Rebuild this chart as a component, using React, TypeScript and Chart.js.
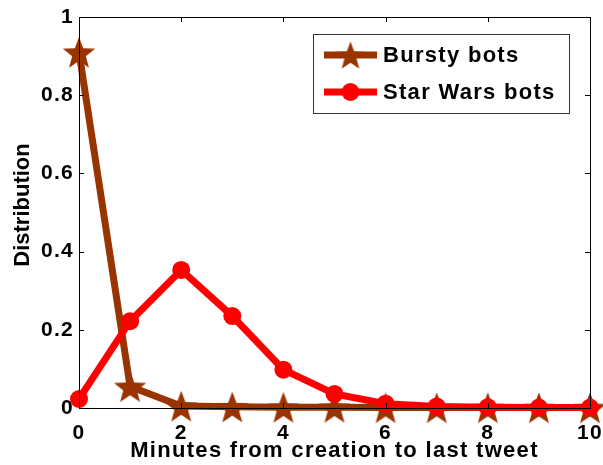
import React, { useEffect, useRef } from "react";
import { Chart, registerables } from "chart.js";

Chart.register(...registerables);

const minutes = [0, 1, 2, 3, 4, 5, 6, 7, 8, 9, 10];
const burstyBots = [0.91, 0.055, 0.005, 0.003, 0.002, 0.002, 0.001, 0.001, 0.001, 0.001, 0.001];
const starWarsBots = [0.023, 0.222, 0.353, 0.235, 0.098, 0.036, 0.011, 0.004, 0.002, 0.001, 0.001];
const xTicks = [0, 2, 4, 6, 8, 10];
const yTicks = [0, 0.2, 0.4, 0.6, 0.8, 1];
const seriesNames = ["Bursty bots", "Star Wars bots"];
const xTitle = "Minutes from creation to last tweet";
const yTitle = "Distribution";

const BROWN = "#993300";
const RED = "#ff0000";
const FONT = "'Liberation Sans', Arial, Helvetica, sans-serif";
const SPACING = "1.3px";

function makeStar(r: number, color: string): HTMLCanvasElement {
  const size = Math.ceil(r * 2 + 2);
  const c = document.createElement("canvas");
  c.width = size;
  c.height = size;
  const ctx = c.getContext("2d")!;
  const cx = size / 2;
  const cy = size / 2 + r * 0.1;
  const inner = r * 0.42;
  ctx.beginPath();
  for (let i = 0; i < 10; i++) {
    const rad = i % 2 === 0 ? r : inner;
    const a = -Math.PI / 2 + (i * Math.PI) / 5;
    const x = cx + rad * Math.cos(a);
    const y = cy + rad * Math.sin(a);
    if (i === 0) ctx.moveTo(x, y);
    else ctx.lineTo(x, y);
  }
  ctx.closePath();
  ctx.fillStyle = color;
  ctx.fill();
  return c;
}

export default function App() {
  const ref = useRef<HTMLCanvasElement | null>(null);

  useEffect(() => {
    document.body.style.margin = "0";
    const star = makeStar(17, BROWN);
    const legendStar = makeStar(15, BROWN);

    const spacingPlugin = {
      id: "spacing",
      beforeLayout(chart: any) {
        chart.ctx.letterSpacing = SPACING;
      },
      beforeDraw(chart: any) {
        chart.ctx.letterSpacing = SPACING;
      },
    };

    const framePlugin = {
      id: "frame",
      afterDatasetsDraw(chart: any) {
        const { ctx, chartArea } = chart;
        const { left, right, top, bottom } = chartArea;
        const xs = chart.scales.x;
        const ys = chart.scales.y;
        ctx.save();
        ctx.strokeStyle = "#000";
        ctx.lineWidth = 1;
        ctx.strokeRect(Math.round(left) + 0.5, Math.round(top) + 0.5, Math.round(right - left), Math.round(bottom - top));
        const tl = 5;
        ctx.beginPath();
        xTicks.forEach((v) => {
          const px = Math.round(xs.getPixelForValue(v)) + 0.5;
          ctx.moveTo(px, bottom);
          ctx.lineTo(px, bottom - tl);
          ctx.moveTo(px, top);
          ctx.lineTo(px, top + tl);
        });
        yTicks.forEach((v) => {
          const py = Math.round(ys.getPixelForValue(v)) + 0.5;
          ctx.moveTo(left, py);
          ctx.lineTo(left + tl, py);
          ctx.moveTo(right, py);
          ctx.lineTo(right - tl, py);
        });
        ctx.stroke();
        ctx.letterSpacing = "0px";
        ctx.fillStyle = "#000";
        ctx.font = `bold 22px ${FONT}`;
        ctx.textAlign = "center";
        ctx.textBaseline = "middle";
        ctx.translate(23, 205);
        ctx.rotate(-Math.PI / 2);
        ctx.fillText(yTitle, 0, 0);
        ctx.restore();
      },
      afterDraw(chart: any) {
        const { ctx } = chart;
        ctx.save();
        const bx = 313, by = 34, bw = 256, bh = 79;
        ctx.fillStyle = "#fff";
        ctx.fillRect(bx, by, bw, bh);
        ctx.strokeStyle = "#333";
        ctx.lineWidth = 1;
        ctx.strokeRect(bx + 0.5, by + 0.5, bw, bh);
        const rows = [55, 92];
        const x0 = 324, x1 = 377;
        ctx.strokeStyle = BROWN;
        ctx.lineWidth = 7;
        ctx.beginPath();
        ctx.moveTo(x0, rows[0]);
        ctx.lineTo(x1, rows[0]);
        ctx.stroke();
        ctx.drawImage(legendStar, (x0 + x1) / 2 - legendStar.width / 2, rows[0] - legendStar.height / 2);
        ctx.strokeStyle = RED;
        ctx.beginPath();
        ctx.moveTo(x0, rows[1]);
        ctx.lineTo(x1, rows[1]);
        ctx.stroke();
        ctx.fillStyle = RED;
        ctx.beginPath();
        ctx.arc((x0 + x1) / 2, rows[1], 9, 0, Math.PI * 2);
        ctx.fill();
        ctx.fillStyle = "#000";
        ctx.letterSpacing = SPACING;
        ctx.font = `bold 22px ${FONT}`;
        ctx.textBaseline = "middle";
        ctx.textAlign = "left";
        ctx.fillText(seriesNames[0], 383, rows[0] + 1);
        ctx.fillText(seriesNames[1], 383, rows[1] + 1);
        ctx.restore();
      },
    };

    const chart = new Chart(ref.current!, {
      type: "line",
      data: {
        labels: minutes,
        datasets: [
          {
            label: seriesNames[0],
            data: minutes.map((m, i) => ({ x: m, y: burstyBots[i] })),
            borderColor: BROWN,
            backgroundColor: BROWN,
            borderWidth: 7,
            pointStyle: star as any,
            pointRadius: 17,
            order: 2,
            clip: false as any,
          },
          {
            label: seriesNames[1],
            data: minutes.map((m, i) => ({ x: m, y: starWarsBots[i] })),
            borderColor: RED,
            backgroundColor: RED,
            borderWidth: 7,
            pointStyle: "circle",
            pointRadius: 8,
            pointBorderWidth: 2,
            order: 1,
            clip: false as any,
          },
        ],
      },
      options: {
        animation: false,
        responsive: false,
        layout: { padding: 0, autoPadding: false },
        plugins: { legend: { display: false }, tooltip: { enabled: false } },
        scales: {
          x: {
            type: "linear",
            min: 0,
            max: 10,
            grid: { display: false, drawTicks: false },
            border: { display: false },
            afterFit: (s: any) => {
              s.height = 57;
              s.paddingLeft = 0;
              s.paddingRight = 13;
            },
            afterBuildTicks: (s: any) => {
              s.ticks = xTicks.map((v) => ({ value: v }));
            },
            ticks: {
              color: "#000",
              font: { family: FONT, size: 21, weight: "bold" },
              padding: 13,
              maxRotation: 0,
              callback: (v: any) => String(v),
            },
            title: {
              display: true,
              text: xTitle,
              color: "#000",
              font: { family: FONT, size: 22, weight: "bold" },
              padding: { top: 0, bottom: 1 },
            },
          },
          y: {
            type: "linear",
            min: 0,
            max: 1,
            grid: { display: false, drawTicks: false },
            border: { display: false },
            afterFit: (s: any) => {
              s.width = 79;
              s.paddingTop = 17;
              s.paddingBottom = 0;
            },
            afterBuildTicks: (s: any) => {
              s.ticks = yTicks.map((v) => ({ value: v }));
            },
            ticks: {
              color: "#000",
              font: { family: FONT, size: 21, weight: "bold" },
              padding: 5,
              callback: (v: any) => String(Math.round(v * 10) / 10),
            },
            title: { display: false },
          },
        },
      },
      plugins: [spacingPlugin, framePlugin],
    });
    return () => chart.destroy();
  }, []);

  return (
    <div style={{ position: "relative", width: 603, height: 465 }}>
      <canvas ref={ref} width={603} height={465} style={{ width: 603, height: 465, display: "block" }} />
    </div>
  );
}
